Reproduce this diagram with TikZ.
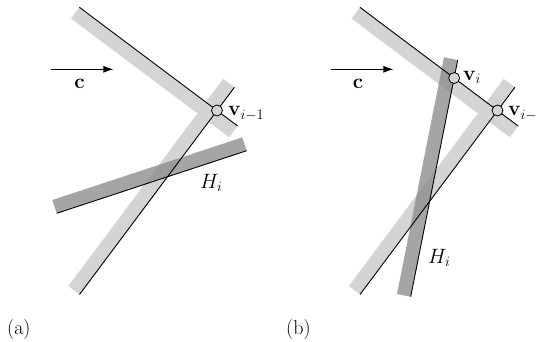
\documentclass[tikz,border=0pt]{standalone}
\usetikzlibrary{arrows.meta,calc}
\definecolor{bandlight}{gray}{0.83}
\definecolor{banddark}{gray}{0.55}
\tikzset{
  lightband/.style={fill=bandlight,draw=none},
  darkband/.style={fill=banddark,fill opacity=0.78,draw=none},
  edge/.style={draw=black,line width=0.9pt},
  vert/.style={circle,draw=black,fill=bandlight,line width=0.8pt,minimum size=11pt,inner sep=0pt},
  lbl/.style={inner sep=0pt,font=\fontsize{20}{24}\selectfont},
  dirarrow/.style={draw=black,line width=0.9pt,-{Latex[length=10pt,width=7pt]}}
}
\begin{document}
\begin{tikzpicture}[x=1pt,y=-1pt]
\useasboundingbox (0,0) rectangle (536,342);
% ---------------- panel (a)
\coordinate (Va) at (217,110.5);
\coordinate (a1s) at (79.4,7.3);   \coordinate (a1e) at (237.6,126);
\coordinate (a2s) at (79.5,294.5); \coordinate (a2e) at (234.4,87.3);
\coordinate (ahs) at (56.7,213.3); \coordinate (ahe) at (246.7,150.7);
\fill[lightband] (a1s) -- (a1e) -- ($(a1e)+(-8.4,11.2)$) -- ($(a1s)+(-8.4,11.2)$) -- cycle;
\fill[lightband] (a2s) -- (a2e) -- ($(a2e)+(-11.2,-8.4)$) -- ($(a2s)+(-11.2,-8.4)$) -- cycle;
\fill[darkband] (ahs) -- (ahe) -- ($(ahe)+(-4.4,-13.3)$) -- ($(ahs)+(-4.4,-13.3)$) -- cycle;
\draw[edge] (a1s) -- (a1e);
\draw[edge] (a2s) -- (a2e);
\draw[edge] (ahs) -- (ahe);
\node[vert] (va) at (Va) {};
\node[lbl,anchor=base west] (lva) at (228,116) {$\mathbf{v}_{i-1}$};
\node[lbl,anchor=base west] (lha) at (200,188.5) {$H_i$};
\coordinate (ca1) at (50.7,69.3); \coordinate (ca2) at (113.3,69.3);
\draw[dirarrow] (ca1) -- (ca2);
\node[lbl] (lca) at (79.5,83.5) {$\mathbf{c}$};
\node[lbl,anchor=base west] (capa) at (7,334) {(a)};
% ---------------- panel (b)
\coordinate (Vb) at (497.5,110.5);
\coordinate (b1s) at (359.9,7.3);  \coordinate (b1e) at (518.1,126);
\coordinate (b2s) at (360,294.5);  \coordinate (b2e) at (514.9,87.3);
\coordinate (bhs) at (410.7,296.7); \coordinate (bhe) at (457.7,60);
\fill[lightband] (b1s) -- (b1e) -- ($(b1e)+(-8.4,11.2)$) -- ($(b1s)+(-8.4,11.2)$) -- cycle;
\fill[lightband] (b2s) -- (b2e) -- ($(b2e)+(-11.2,-8.4)$) -- ($(b2s)+(-11.2,-8.4)$) -- cycle;
\fill[darkband] (bhs) -- (bhe) -- ($(bhe)+(-13.7,-2.7)$) -- ($(bhs)+(-13.7,-2.7)$) -- cycle;
\draw[edge] (b1s) -- (b1e);
\draw[edge] (b2s) -- (b2e);
\draw[edge] (bhs) -- (bhe);
\coordinate (Vi) at (intersection of b1s--b1e and bhs--bhe);
\node[vert] (vb) at (Vb) {};
\node[vert] (vi) at (Vi) {};
\node[lbl,anchor=base west] (lvb) at (508,116) {$\mathbf{v}_{i-1}$};
\node[lbl,anchor=base west] (lvi) at (463,80.5) {$\mathbf{v}_{i}$};
\node[lbl,anchor=base west] (lhb) at (428,263.5) {$H_i$};
\coordinate (cb1) at (330.7,69.3); \coordinate (cb2) at (393.3,69.3);
\draw[dirarrow] (cb1) -- (cb2);
\node[lbl] (lcb) at (358,83.5) {$\mathbf{c}$};
\node[lbl,anchor=base west] (capb) at (286,334) {(b)};
\end{tikzpicture}
\end{document}
